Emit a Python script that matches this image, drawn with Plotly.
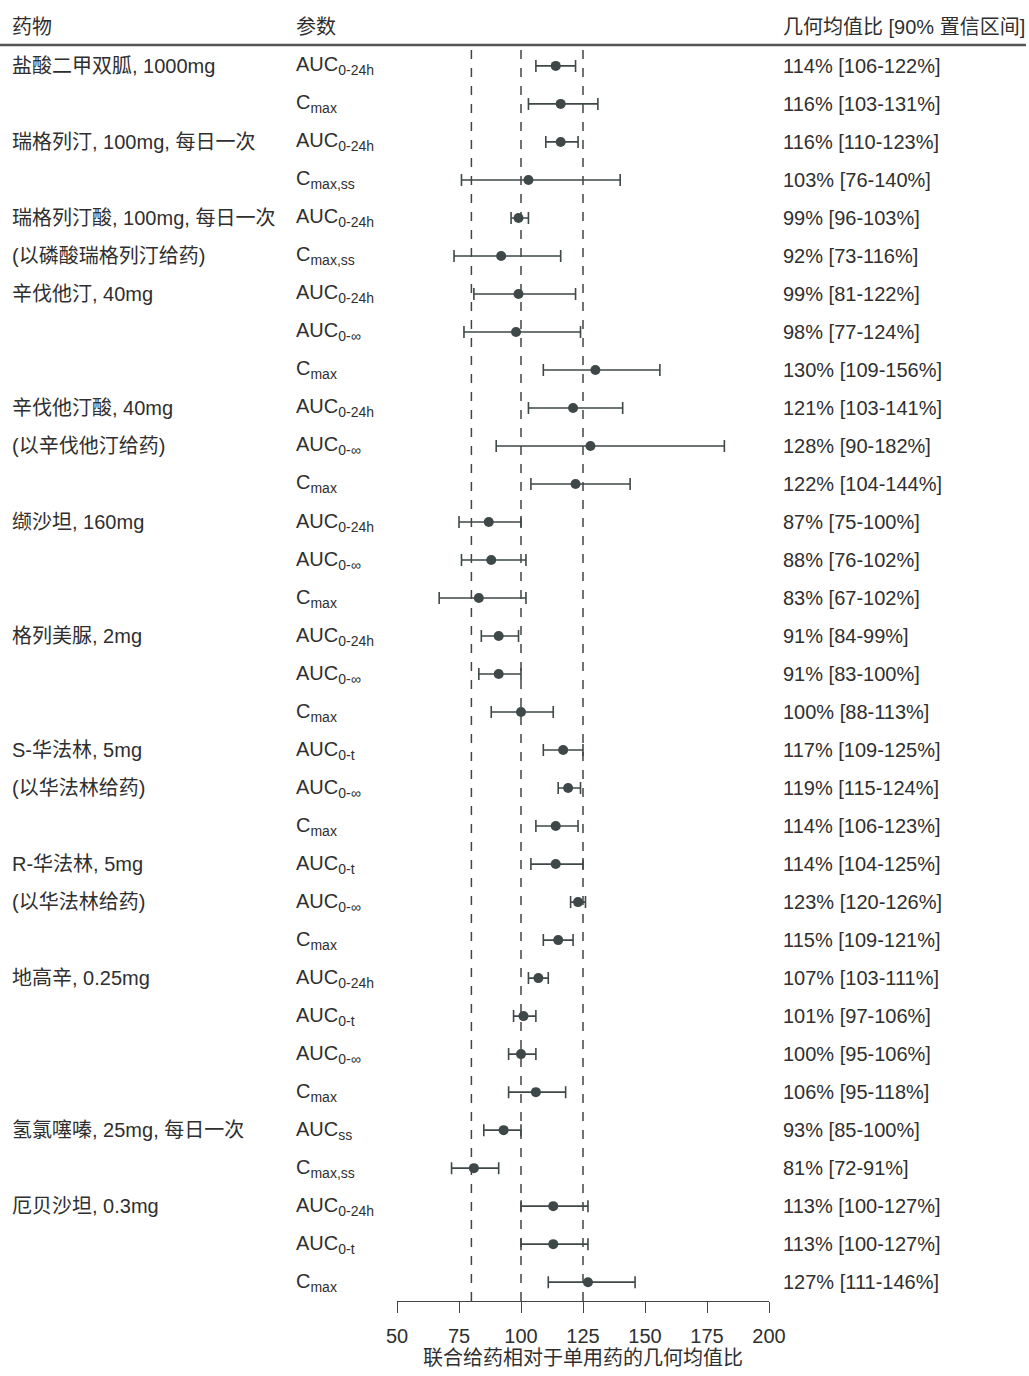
import plotly.graph_objects as go

# ---- data -----------------------------------------------------------------
drug_labels = [
    "盐酸二甲双胍, 1000mg", "",
    "瑞格列汀, 100mg, 每日一次", "",
    "瑞格列汀酸, 100mg, 每日一次", "(以磷酸瑞格列汀给药)",
    "辛伐他汀, 40mg", "", "",
    "辛伐他汀酸, 40mg", "(以辛伐他汀给药)", "",
    "缬沙坦, 160mg", "", "",
    "格列美脲, 2mg", "", "",
    "S-华法林, 5mg", "(以华法林给药)", "",
    "R-华法林, 5mg", "(以华法林给药)", "",
    "地高辛, 0.25mg", "", "", "",
    "氢氯噻嗪, 25mg, 每日一次", "",
    "厄贝沙坦, 0.3mg", "", "",
]

param_base = [
    "AUC", "C", "AUC", "C", "AUC", "C", "AUC", "AUC", "C", "AUC", "AUC",
    "C", "AUC", "AUC", "C", "AUC", "AUC", "C", "AUC", "AUC", "C", "AUC",
    "AUC", "C", "AUC", "AUC", "AUC", "C", "AUC", "C", "AUC", "AUC", "C",
]
param_sub = [
    "0-24h", "max", "0-24h", "max,ss", "0-24h", "max,ss", "0-24h", "0-∞",
    "max", "0-24h", "0-∞", "max", "0-24h", "0-∞", "max", "0-24h", "0-∞",
    "max", "0-t", "0-∞", "max", "0-t", "0-∞", "max", "0-24h", "0-t", "0-∞",
    "max", "ss", "max,ss", "0-24h", "0-t", "max",
]

gmr = [114, 116, 116, 103, 99, 92, 99, 98, 130, 121, 128, 122, 87, 88, 83,
       91, 91, 100, 117, 119, 114, 114, 123, 115, 107, 101, 100, 106, 93, 81,
       113, 113, 127]
ci_low = [106, 103, 110, 76, 96, 73, 81, 77, 109, 103, 90, 104, 75, 76, 67,
          84, 83, 88, 109, 115, 106, 104, 120, 109, 103, 97, 95, 95, 85, 72,
          100, 100, 111]
ci_high = [122, 131, 123, 140, 103, 116, 122, 124, 156, 141, 182, 144, 100,
           102, 102, 99, 100, 113, 125, 124, 123, 125, 126, 121, 111, 106, 106,
           118, 100, 91, 127, 127, 146]

x_ticks = [50, 75, 100, 125, 150, 175, 200]
ref_lines = [80, 100, 125]

header_drug = "药物"
header_param = "参数"
header_value = "几何均值比 [90% 置信区间]"
x_title = "联合给药相对于单用药的几何均值比"

# ---- layout geometry (pixels) --------------------------------------------
W, H = 1029, 1376
plot_left, plot_right = 397, 769
plot_top, plot_bottom = 45, 1307
row0_px, row_step = 66, 38.19

n = len(gmr)
rows = list(range(n))
y_top = (plot_top - row0_px) / row_step
y_bot = (plot_bottom - row0_px) / row_step


def px_to_paper(px):
    return (px - plot_left) / (plot_right - plot_left)


FONT = "Liberation Sans, Arial, Noto Sans CJK SC, sans-serif"
FS = 20
TEXT_COLOR = "#2f2f2f"
MARK_COLOR = "#3f4848"

fig = go.Figure()

fig.add_trace(go.Scatter(
    x=gmr,
    y=rows,
    mode="markers",
    marker=dict(size=10, color=MARK_COLOR),
    error_x=dict(
        type="data",
        symmetric=False,
        array=[h - g for h, g in zip(ci_high, gmr)],
        arrayminus=[g - l for g, l in zip(gmr, ci_low)],
        color=MARK_COLOR,
        thickness=1.6,
        width=6,
    ),
    showlegend=False,
    hoverinfo="skip",
))

# reference lines
for v in ref_lines:
    fig.add_shape(type="line", xref="x", yref="paper", x0=v, x1=v, y0=0, y1=1,
                  line=dict(color="#444444", width=1.5, dash="dash"), layer="below")

# header rule
fig.add_shape(type="line", xref="paper", yref="paper",
              x0=px_to_paper(0), x1=px_to_paper(1026), y0=1, y1=1,
              line=dict(color="#555555", width=2.4))

annotations = []
y_head = 1 + (plot_top - 27) / (plot_bottom - plot_top)
for txt, px in [(header_drug, 10), (header_param, 294), (header_value, 781)]:
    annotations.append(dict(
        text=txt, x=px_to_paper(px), y=y_head, xref="paper", yref="paper",
        xanchor="left", yanchor="middle", showarrow=False,
        font=dict(size=FS, color=TEXT_COLOR, family=FONT),
    ))

for i in rows:
    if drug_labels[i]:
        annotations.append(dict(
            text=drug_labels[i], x=px_to_paper(10), y=i, xref="paper", yref="y",
            xanchor="left", yanchor="middle", showarrow=False,
            font=dict(size=FS, color=TEXT_COLOR, family=FONT),
        ))
    annotations.append(dict(
        text=f"{param_base[i]}<sub>{param_sub[i]}</sub>",
        x=px_to_paper(294), y=i, xref="paper", yref="y",
        xanchor="left", yanchor="middle", showarrow=False,
        font=dict(size=FS, color=TEXT_COLOR, family=FONT),
    ))
    annotations.append(dict(
        text=f"{gmr[i]}% [{ci_low[i]}-{ci_high[i]}%]",
        x=px_to_paper(781), y=i, xref="paper", yref="y",
        xanchor="left", yanchor="middle", showarrow=False,
        font=dict(size=FS, color=TEXT_COLOR, family=FONT),
    ))

fig.update_layout(
    width=W, height=H,
    margin=dict(l=plot_left, r=W - plot_right, t=plot_top, b=H - plot_bottom,
                pad=0),
    paper_bgcolor="white", plot_bgcolor="white",
    font=dict(family=FONT, color=TEXT_COLOR, size=FS),
    annotations=annotations,
    xaxis=dict(
        range=[50, 200], tickvals=x_ticks, ticks="outside", ticklen=11,
        tickwidth=1.4, tickcolor="#444444", showline=True, linecolor="#444444",
        linewidth=1.4, showgrid=False, zeroline=False, ticklabelstandoff=6,
        tickfont=dict(size=FS, color=TEXT_COLOR, family=FONT),
        title=dict(text=x_title, standoff=3,
                   font=dict(size=FS, color=TEXT_COLOR, family=FONT)),
    ),
    yaxis=dict(range=[y_bot, y_top], visible=False, showgrid=False,
               zeroline=False),
)

fig.write_html("out.html")
